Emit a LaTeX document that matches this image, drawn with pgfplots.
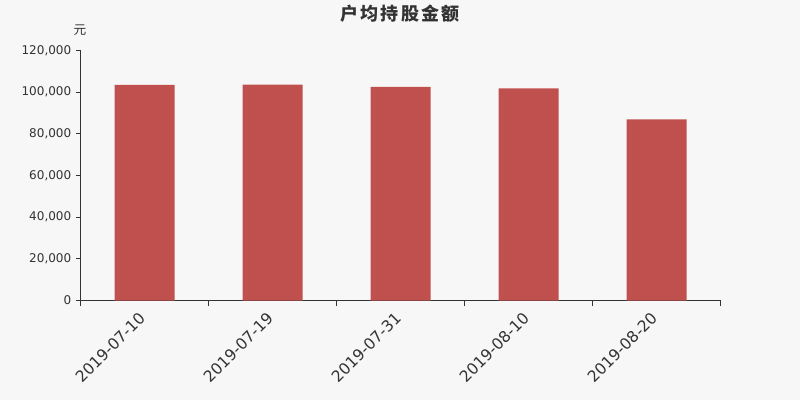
\documentclass[border=0pt]{standalone}
\usepackage{pgfplots}
\pgfplotsset{compat=1.18}
\usepackage{fontspec}
\setmainfont{DejaVu Sans}
\newfontfamily\cjk{Noto Sans CJK SC}
\definecolor{bg}{RGB}{247,247,247}
\definecolor{txt}{RGB}{51,51,51}
\definecolor{barc}{RGB}{192,80,77}
\begin{document}
\begin{tikzpicture}[x=1pt,y=1pt]
\fill[bg] (0,0) rectangle (600,300);
\path[use as bounding box] (0,0) rectangle (600,300);
\node[text=txt, font=\cjk\bfseries\fontsize{13.5}{16}\selectfont] at (300,289.5) {户\hspace{1.6pt}均\hspace{1.6pt}持\hspace{1.6pt}股\hspace{1.6pt}金\hspace{1.6pt}额};
\node[text=txt, font=\cjk\fontsize{9.5}{11}\selectfont] at (60,277.5) {元};
\begin{axis}[
  at={(60.375pt,74.625pt)}, anchor=south west,
  scale only axis, width=480pt, height=187.5pt,
  xmin=-0.5, xmax=4.5, ymin=0, ymax=120000,
  axis lines=left, axis line style={txt, line width=0.75pt, -},
  xtick={-0.5,0.5,1.5,2.5,3.5,4.5},
  xticklabels={},
  xtick style={txt, line width=0.75pt},
  extra x ticks={0,1,2,3,4},
  extra x tick labels={2019-07-10,2019-07-19,2019-07-31,2019-08-10,2019-08-20},
  extra x tick style={major tick length=0pt, tick style={draw=none},
    tick label style={rotate=45, anchor=north east, font=\fontsize{11.7}{13}\selectfont, text=txt, inner sep=0pt, yshift=-2.5pt, xshift=-8.5pt}},
  ytick={0,20000,40000,60000,80000,100000,120000},
  y tick label style={font=\fontsize{9}{11}\selectfont, text=txt, inner sep=0pt, xshift=-3pt},
  ytick style={txt, line width=0.75pt},
  tick align=outside, major tick length=3.75pt,
  scaled y ticks=false,
  /pgf/number format/.cd, fixed, 1000 sep={,}, assume math mode=true,
]
\addplot[ybar, bar width=45pt, fill=barc, draw=none] coordinates {
  (0,103500) (1,103600) (2,102500) (3,101800) (4,86900)
};
\end{axis}
\end{tikzpicture}
\end{document}
